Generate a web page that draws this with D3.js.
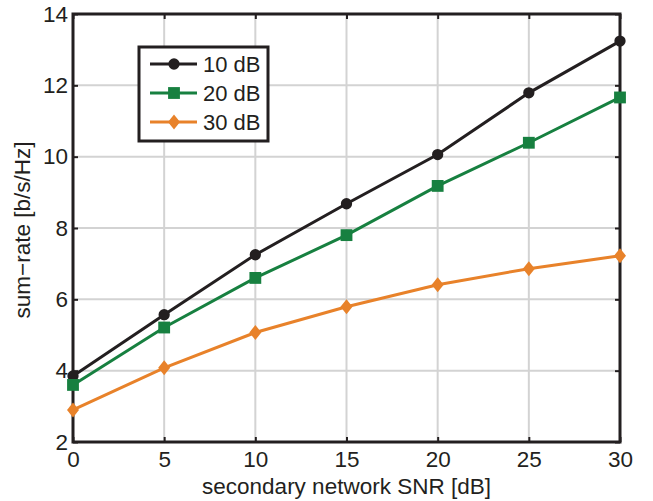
<!DOCTYPE html>
<html>
<head>
<meta charset="utf-8">
<script src="https://cdn.jsdelivr.net/npm/d3@7"></script>
<style>
  body { margin: 0; background: #fff; }
  text { font-family: "Liberation Sans", Arial, sans-serif; fill: #231f20; }
</style>
</head>
<body>
<div id="chart"></div>
<script>
// data
var snr = [0, 5, 10, 15, 20, 25, 30];
var rate10 = [3.85, 5.57, 7.25, 8.68, 10.06, 11.79, 13.24];
var rate20 = [3.60, 5.21, 6.60, 7.80, 9.18, 10.39, 11.66];
var rate30 = [2.90, 4.08, 5.07, 5.79, 6.41, 6.86, 7.22];
var xTicks = [0, 5, 10, 15, 20, 25, 30];
var yTicks = [2, 4, 6, 8, 10, 12, 14];
var seriesNames = ["10 dB", "20 dB", "30 dB"];

var series = [
    { name: seriesNames[0], values: rate10, color: "#231f20", shape: "circle" },
    { name: seriesNames[1], values: rate20, color: "#178040", shape: "square" },
    { name: seriesNames[2], values: rate30, color: "#e8822a", shape: "diamond" }
];

var W = 653, H = 501,
    margin = { top: 14, right: 33, bottom: 59, left: 73 },
    width = W - margin.left - margin.right,
    height = H - margin.top - margin.bottom;

var svg = d3.select("#chart").append("svg")
    .attr("width", W)
    .attr("height", H);

var g = svg.append("g").attr("transform", "translate(" + margin.left + "," + margin.top + ")");

var x = d3.scaleLinear().domain([0, 30]).range([0, width]);
var y = d3.scaleLinear().domain([2, 14]).range([height, 0]);

// grid
g.append("g").selectAll("line").data(xTicks).enter().append("line")
    .attr("x1", function(d) { return x(d); })
    .attr("x2", function(d) { return x(d); })
    .attr("y1", 0).attr("y2", height)
    .attr("stroke", "#d3d3d3").attr("stroke-width", 2);
g.append("g").selectAll("line").data(yTicks).enter().append("line")
    .attr("y1", function(d) { return y(d); })
    .attr("y2", function(d) { return y(d); })
    .attr("x1", 0).attr("x2", width)
    .attr("stroke", "#d3d3d3").attr("stroke-width", 2);

// axes, ticks pointing inward
function styleAxis(sel) {
    sel.select(".domain").remove();
    sel.selectAll(".tick line").attr("stroke", "#231f20").attr("stroke-width", 2);
    sel.selectAll(".tick text").style("font-size", "22.5px").attr("fill", "#231f20");
}
g.append("g")
    .attr("transform", "translate(0," + height + ")")
    .call(d3.axisBottom(x).tickValues(xTicks).tickSizeInner(-5).tickSizeOuter(0).tickPadding(9))
    .call(styleAxis);
g.append("g")
    .call(d3.axisTop(x).tickValues(xTicks).tickSizeInner(-5).tickSizeOuter(0).tickFormat(""))
    .call(styleAxis);
g.append("g")
    .call(d3.axisLeft(y).tickValues(yTicks).tickSizeInner(-5).tickSizeOuter(0).tickPadding(5))
    .call(styleAxis);
g.append("g")
    .attr("transform", "translate(" + width + ",0)")
    .call(d3.axisRight(y).tickValues(yTicks).tickSizeInner(-5).tickSizeOuter(0).tickFormat(""))
    .call(styleAxis);

g.append("rect")
    .attr("width", width).attr("height", height)
    .attr("fill", "none").attr("stroke", "#231f20").attr("stroke-width", 3);

// lines
var line = d3.line()
    .x(function(d, i) { return x(snr[i]); })
    .y(function(d) { return y(d); });

// wide diamond like the matlab marker
var wideDiamond = {
    draw: function(context, size) {
        var h = Math.sqrt(size) * 0.75, w = h * 0.8;
        context.moveTo(0, -h);
        context.lineTo(w, 0);
        context.lineTo(0, h);
        context.lineTo(-w, 0);
        context.closePath();
    }
};

var symbolOf = {
    circle: d3.symbol().type(d3.symbolCircle).size(100),
    square: d3.symbol().type(d3.symbolSquare).size(140),
    diamond: d3.symbol().type(wideDiamond).size(100)
};

series.forEach(function(s) {
    g.append("path")
        .datum(s.values)
        .attr("d", line)
        .attr("fill", "none")
        .attr("stroke", s.color)
        .attr("stroke-width", 3);
    g.append("g").selectAll("path").data(s.values).enter().append("path")
        .attr("transform", function(d, i) { return "translate(" + x(snr[i]) + "," + y(d) + ")"; })
        .attr("d", symbolOf[s.shape])
        .attr("fill", s.color);
});

// legend
var lg = svg.append("g").attr("transform", "translate(139,47)");
lg.append("rect")
    .attr("width", 129).attr("height", 94)
    .attr("fill", "#fff").attr("stroke", "#231f20").attr("stroke-width", 3);
series.forEach(function(s, i) {
    var yy = 17 + i * 29;
    lg.append("line")
        .attr("x1", 11).attr("x2", 58).attr("y1", yy).attr("y2", yy)
        .attr("stroke", s.color).attr("stroke-width", 3);
    lg.append("path")
        .attr("transform", "translate(35," + yy + ")")
        .attr("d", symbolOf[s.shape])
        .attr("fill", s.color);
    lg.append("text")
        .attr("x", 64).attr("y", yy).attr("dy", "0.36em")
        .style("font-size", "22px")
        .text(s.name);
});

// axis labels
svg.append("text")
    .attr("x", margin.left + width / 2).attr("y", 494)
    .attr("text-anchor", "middle")
    .style("font-size", "22.5px")
    .text("secondary network SNR [dB]");
svg.append("text")
    .attr("transform", "translate(30," + (margin.top + height / 2 + 2) + ") rotate(-90)")
    .attr("text-anchor", "middle")
    .style("font-size", "22.5px")
    .text("sum\u2212rate [b/s/Hz]");
</script>
</body>
</html>
